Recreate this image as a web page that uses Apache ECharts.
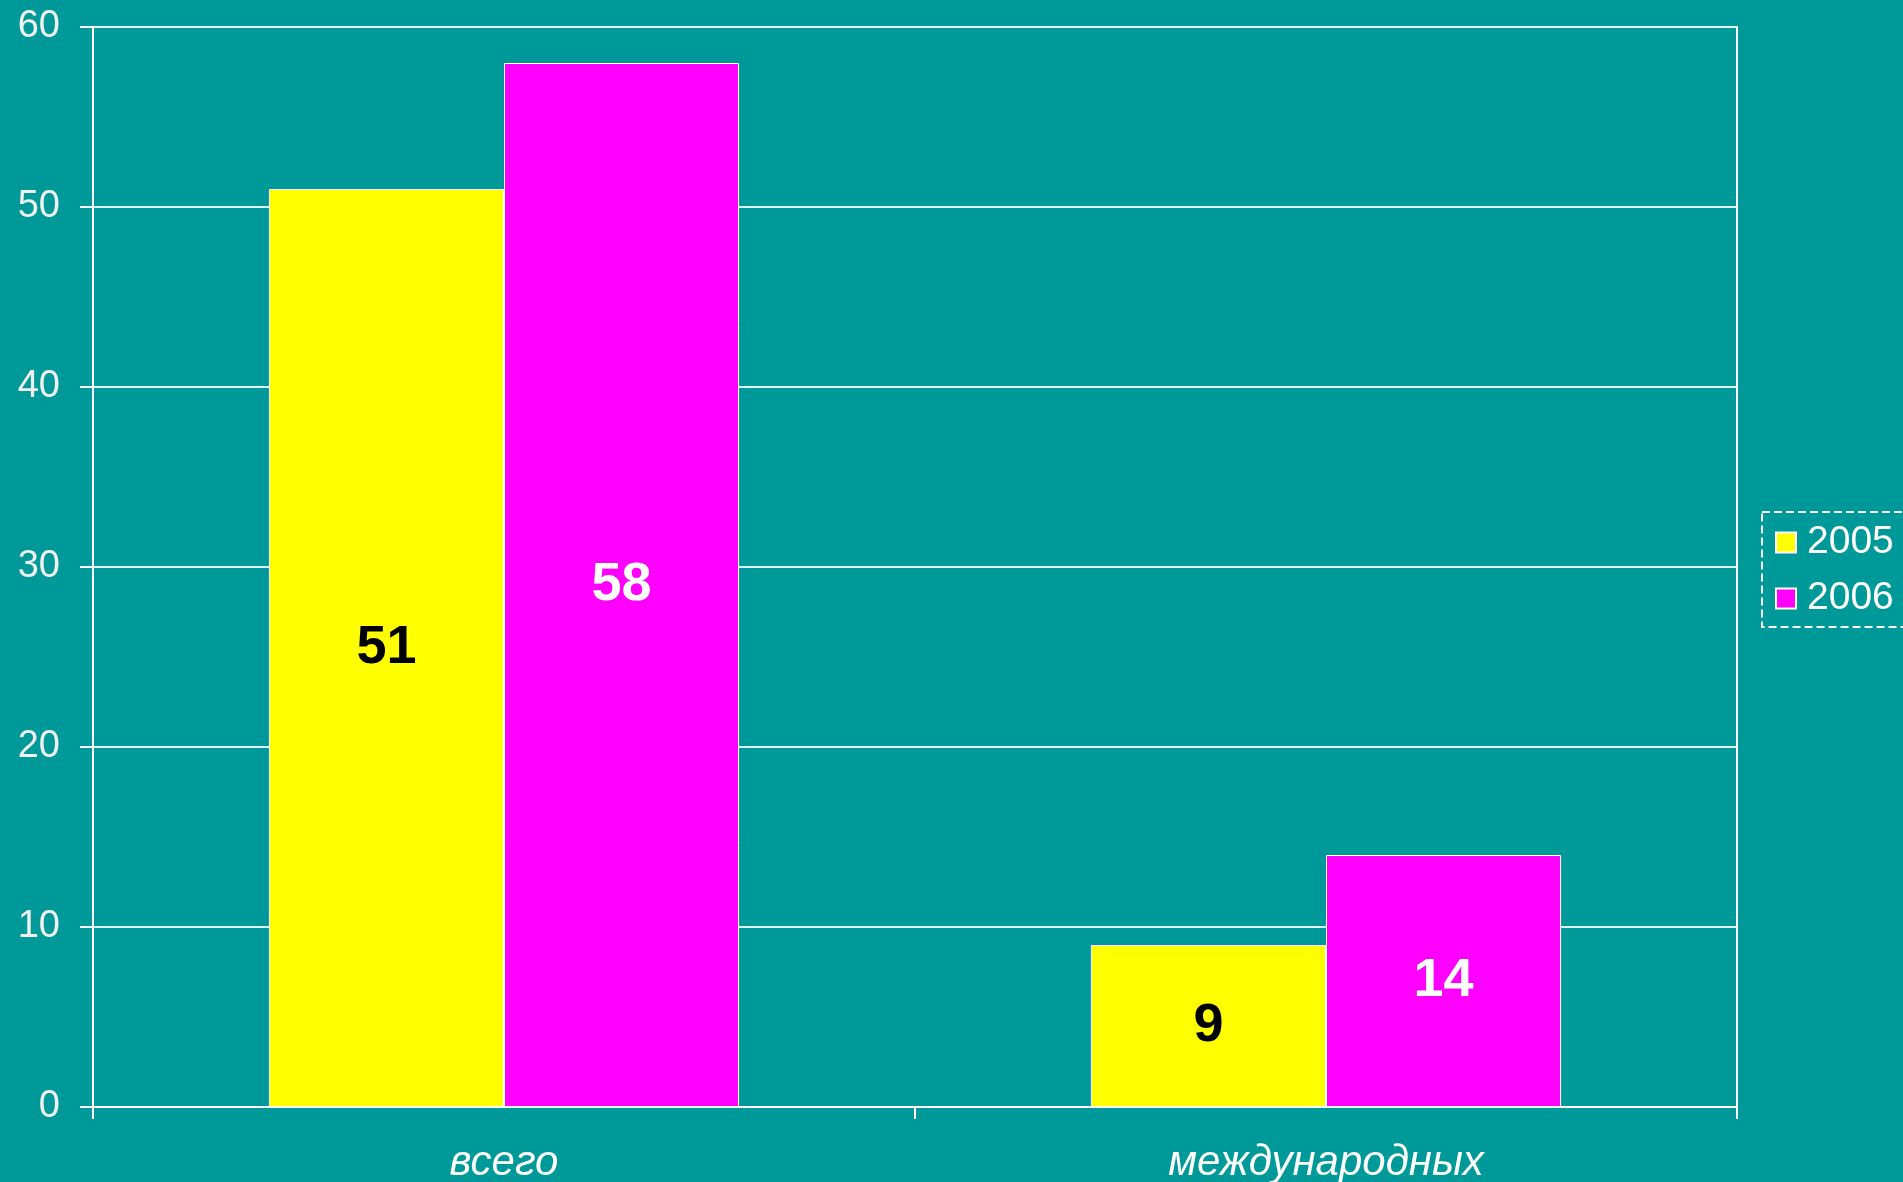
<!DOCTYPE html>
<html>
<head>
<meta charset="utf-8">
<script src="https://cdn.jsdelivr.net/npm/echarts@6/dist/echarts.min.js"></script>
<style>
  html, body { margin: 0; padding: 0; background: #009999; }
  #chart { width: 1903px; height: 1182px; }
</style>
</head>
<body>
<div id="chart"></div>
<script>
// данные
const categories = ['всего', 'международных']
const years = ['2005', '2006']
const values2005 = [51, 9]
const values2006 = [58, 14]
const yTicks = { min: 0, max: 60, interval: 10 }

const chart = echarts.init(document.getElementById('chart'))

const labelFont = '"Liberation Sans", Arial, sans-serif'

chart.setOption({
  backgroundColor: '#009999',
  textStyle: { fontFamily: labelFont },
  grid: {
    left: 93,
    right: 166,
    top: 27,
    bottom: 75,
    outerBoundsMode: 'none',
    show: true,
    borderColor: '#ffffff',
    borderWidth: 2
  },
  legend: {
    data: years,
    orient: 'vertical',
    left: 1762,
    top: 512,
    itemWidth: 20,
    itemHeight: 20,
    itemGap: 17,
    padding: [11, 40, 9, 13],
    borderColor: '#ffffff',
    borderWidth: 2,
    borderType: 'dashed',
    icon: 'rect',
    textStyle: {
      color: '#ffffff',
      fontSize: 39,
      fontFamily: labelFont,
      padding: [0, 0, 0, 6]
    }
  },
  xAxis: {
    type: 'category',
    data: categories,
    axisLine: { lineStyle: { color: '#ffffff', width: 2 } },
    axisTick: { show: true, length: 12, lineStyle: { color: '#ffffff', width: 2 } },
    axisLabel: {
      color: '#ffffff',
      fontSize: 42,
      fontStyle: 'italic',
      margin: 35,
      fontFamily: labelFont
    }
  },
  yAxis: {
    type: 'value',
    min: yTicks.min,
    max: yTicks.max,
    interval: yTicks.interval,
    axisLine: { show: true, lineStyle: { color: '#ffffff', width: 2 } },
    axisTick: { show: true, length: 13, lineStyle: { color: '#ffffff', width: 2 } },
    splitLine: { lineStyle: { color: '#e0f4f4', width: 2 } },
    axisLabel: {
      color: '#f0f0f0',
      fontSize: 38,
      margin: 33,
      fontFamily: labelFont
    }
  },
  series: [
    {
      name: years[0],
      type: 'bar',
      data: values2005,
      barWidth: '28.6%',
      barGap: '0%',
      itemStyle: { color: '#ffff00', borderColor: '#ffffff', borderWidth: 1 },
      label: {
        show: true,
        position: 'inside',
        color: '#000000',
        fontSize: 54,
        fontWeight: 'bold',
        fontFamily: labelFont
      }
    },
    {
      name: years[1],
      type: 'bar',
      data: values2006,
      barWidth: '28.6%',
      barGap: '0%',
      itemStyle: { color: '#ff00ff', borderColor: '#ffffff', borderWidth: 1 },
      label: {
        show: true,
        position: 'inside',
        color: '#ffffff',
        fontSize: 54,
        fontWeight: 'bold',
        fontFamily: labelFont
      }
    }
  ]
})
</script>
</body>
</html>
